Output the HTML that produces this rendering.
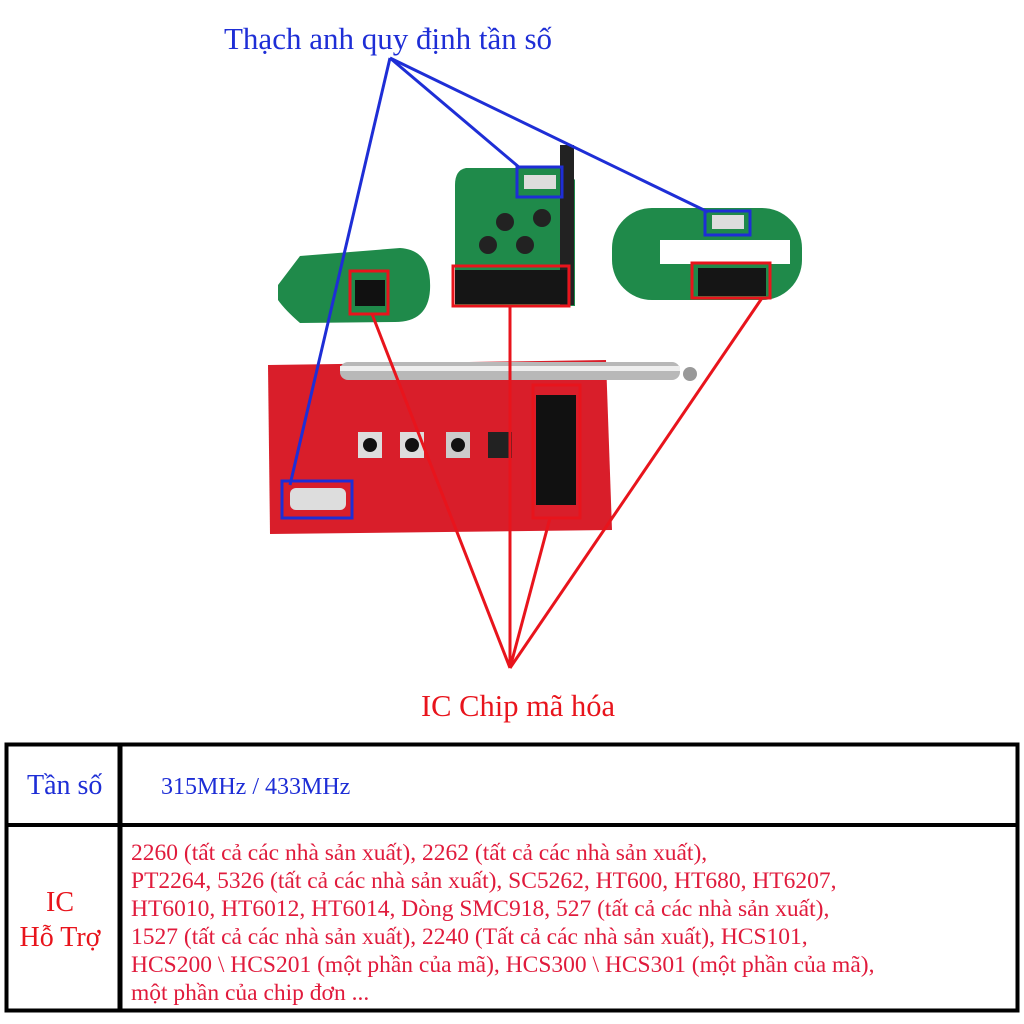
<!DOCTYPE html>
<html><head><meta charset="utf-8"><style>
body{margin:0;width:1024px;height:1024px;background:#fff;position:relative;overflow:hidden;font-family:"Liberation Serif",serif}
.t{position:absolute;white-space:nowrap}
</style></head><body>
<svg width="1024" height="1024" style="position:absolute;left:0;top:0">
<polygon points="268,365 606,360 612,530 270,534" fill="#d91e2a"/>
<rect x="340" y="362" width="340" height="18" rx="8" fill="#b8b8b8"/>
<rect x="340" y="366" width="340" height="5" fill="#eee"/>
<circle cx="690" cy="374" r="7" fill="#999"/>
<rect x="536" y="395" width="40" height="110" fill="#111"/>
<rect x="358" y="432" width="24" height="26" fill="#ddd"/><circle cx="370" cy="445" r="7" fill="#111"/>
<rect x="400" y="432" width="24" height="26" fill="#ddd"/><circle cx="412" cy="445" r="7" fill="#111"/>
<rect x="446" y="432" width="24" height="26" fill="#ccc"/><circle cx="458" cy="445" r="7" fill="#111"/>
<rect x="488" y="432" width="24" height="26" fill="#222"/>
<rect x="290" y="488" width="56" height="22" rx="6" fill="#ddd"/>
<path d="M278,285 L300,256 L400,248 Q432,250 430,290 Q428,322 395,322 L300,323 Q285,310 278,300Z" fill="#1f8a4a"/>
<rect x="355" y="280" width="30" height="26" fill="#111"/>
<path d="M466,168 L565,168 L575,180 L575,306 L455,306 L455,185 Q455,170 466,168Z" fill="#1f8a4a"/>
<rect x="560" y="145" width="14" height="160" fill="#222"/>
<rect x="455" y="270" width="112" height="34" fill="#151515"/>
<circle cx="505" cy="222" r="9" fill="#222"/><circle cx="542" cy="218" r="9" fill="#222"/>
<circle cx="488" cy="245" r="9" fill="#222"/><circle cx="525" cy="245" r="9" fill="#222"/>
<rect x="612" y="208" width="190" height="92" rx="40" fill="#1f8a4a"/>
<rect x="660" y="240" width="130" height="24" fill="#fff"/>
<rect x="698" y="268" width="68" height="28" fill="#151515"/>
<rect x="712" y="215" width="32" height="14" fill="#ddd"/>
<rect x="524" y="175" width="32" height="14" fill="#ddd"/>
<g stroke="#1e2ed6" stroke-width="3" fill="none">
<line x1="390" y1="58" x2="290" y2="485"/>
<line x1="390" y1="58" x2="520" y2="168"/>
<line x1="390" y1="58" x2="708" y2="212"/>
<rect x="517" y="167" width="45" height="30"/>
<rect x="705" y="211" width="45" height="24"/>
<rect x="282" y="481" width="70" height="37"/>
</g>
<g stroke="#e8141c" stroke-width="3" fill="none">
<rect x="350" y="271" width="38" height="43"/>
<rect x="453" y="266" width="116" height="40"/>
<rect x="692" y="263" width="78" height="35"/>
<rect x="533" y="385" width="47" height="133"/>
<line x1="372" y1="314" x2="510" y2="668"/>
<line x1="510" y1="306" x2="510" y2="668"/>
<line x1="550" y1="518" x2="510" y2="668"/>
<line x1="762" y1="298" x2="510" y2="668"/>
</g>
<g stroke="#000" fill="none">
<rect x="6.5" y="744.5" width="1011" height="266" stroke-width="4"/>
<line x1="120" y1="744" x2="120" y2="1011" stroke-width="5"/>
<line x1="6" y1="825" x2="1018" y2="825" stroke-width="4"/>
</g>
</svg>
<div class="t" style="left:224px;top:21px;font-size:31px;color:#1e2ed6">Thạch anh quy định tần số</div>
<div class="t" style="left:421px;top:689px;font-size:30.5px;color:#e8141c">IC Chip mã hóa</div>
<div class="t" style="left:27px;top:770px;font-size:28px;color:#1e2ed6">Tần số</div>
<div class="t" style="left:161px;top:774px;font-size:24px;color:#1e2ed6">315MHz / 433MHz</div>
<div class="t" style="left:0;width:120px;text-align:center;top:885px;font-size:28px;line-height:35px;color:#e8141c">IC<br>Hỗ Trợ</div>
<div class="t" style="left:131px;top:839px;font-size:23.5px;line-height:28px;color:#e01b3c">2260 (tất cả các nhà sản xuất), 2262 (tất cả các nhà sản xuất),<br>PT2264, 5326 (tất cả các nhà sản xuất), SC5262, HT600, HT680, HT6207,<br>HT6010, HT6012, HT6014, Dòng SMC918, 527 (tất cả các nhà sản xuất),<br>1527 (tất cả các nhà sản xuất), 2240 (Tất cả các nhà sản xuất), HCS101,<br>HCS200 \ HCS201 (một phần của mã), HCS300 \ HCS301 (một phần của mã),<br>một phần của chip đơn ...</div>
</body></html>
